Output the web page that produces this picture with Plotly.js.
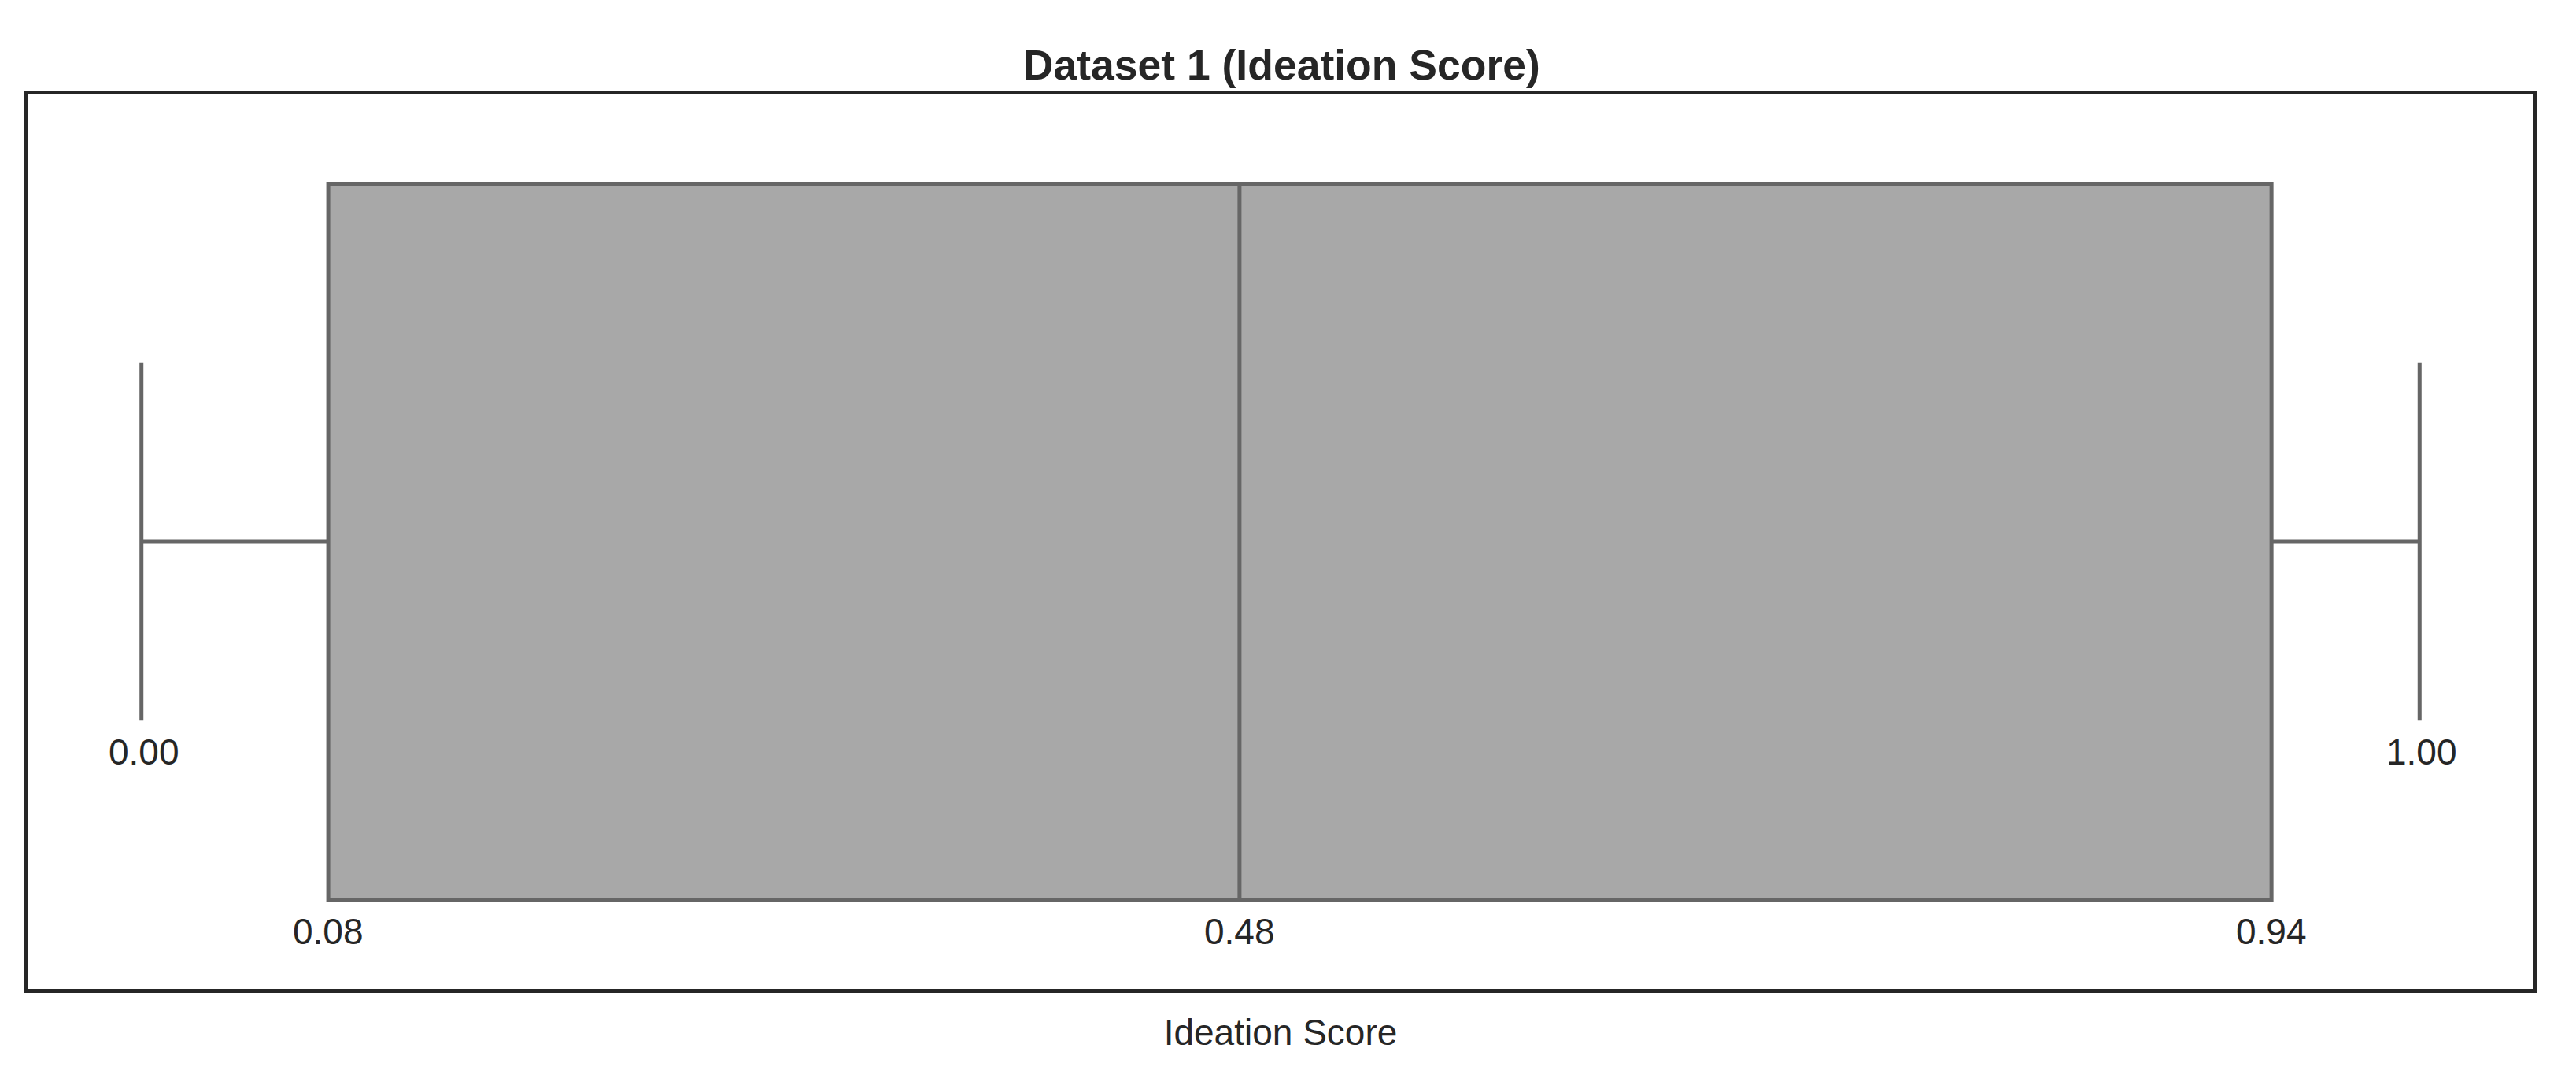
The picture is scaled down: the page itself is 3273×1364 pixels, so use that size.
<!DOCTYPE html>
<html>
<head>
<meta charset="utf-8">
<script src="https://cdn.plot.ly/plotly-3.0.1.min.js"></script>
<style>
  html, body { margin: 0; padding: 0; background: #fff; }
  #chart { width: 3273px; height: 1364px; }
</style>
</head>
<body>
<div id="chart"></div>
<script>
// summary stats for the box
const seriesName = 'Dataset 1';
const lowerFence = [0.0];
const q1 = [0.082];
const median = [0.482];
const q3 = [0.935];
const upperFence = [1.0];

// labels printed on the chart
const fenceLabels = ['0.00', '1.00'];
const quartileLabels = ['0.08', '0.48', '0.94'];

const textColor = '#262626';
const font = 'Liberation Sans, Arial, sans-serif';

const trace = {
    type: 'box',
    orientation: 'h',
    name: seriesName,
    y: [0],
    q1: q1,
    median: median,
    q3: q3,
    lowerfence: lowerFence,
    upperfence: upperFence,
    width: 0.8,
    whiskerwidth: 0.5,
    fillcolor: '#a8a8a8',
    line: {color: '#666666', width: 5},
    boxpoints: false,
    hoverinfo: 'skip'
};

// value labels: fences under the caps, quartiles under the box
const annotations = [];
[lowerFence[0], upperFence[0]].forEach((v, i) => {
    annotations.push({
        x: v, y: -0.235, xref: 'x', yref: 'y',
        text: fenceLabels[i], showarrow: false,
        xanchor: 'center', yanchor: 'middle', xshift: 3,
        font: {family: font, size: 46, color: textColor}
    });
});
[q1[0], median[0], q3[0]].forEach((v, i) => {
    annotations.push({
        x: v, y: -0.436, xref: 'x', yref: 'y',
        text: quartileLabels[i], showarrow: false,
        xanchor: 'center', yanchor: 'middle',
        font: {family: font, size: 46, color: textColor}
    });
});

const layout = {
    width: 3273,
    height: 1364,
    margin: {l: 35, r: 54, t: 120, b: 108},
    paper_bgcolor: '#ffffff',
    plot_bgcolor: '#ffffff',
    showlegend: false,
    title: {
        text: '<b>Dataset 1 (Ideation Score)</b>',
        x: 0.4975, xanchor: 'center',
        y: 1 - 82 / 1364, yanchor: 'middle', yref: 'container',
        font: {family: font, size: 53.5, color: textColor}
    },
    xaxis: {
        range: [-0.05, 1.05],
        showgrid: false,
        zeroline: false,
        showticklabels: false,
        ticks: '',
        showline: true, mirror: true,
        linecolor: textColor, linewidth: 4.5,
        title: {
            text: 'Ideation Score',
            standoff: 37,
            font: {family: font, size: 46, color: textColor}
        }
    },
    yaxis: {
        range: [-0.5, 0.5],
        showgrid: false,
        zeroline: false,
        showticklabels: false,
        ticks: '',
        showline: true, mirror: true,
        linecolor: textColor, linewidth: 4.5
    },
    annotations: annotations
};

Plotly.newPlot('chart', [trace], layout, {displayModeBar: false, staticPlot: true});
</script>
</body>
</html>
